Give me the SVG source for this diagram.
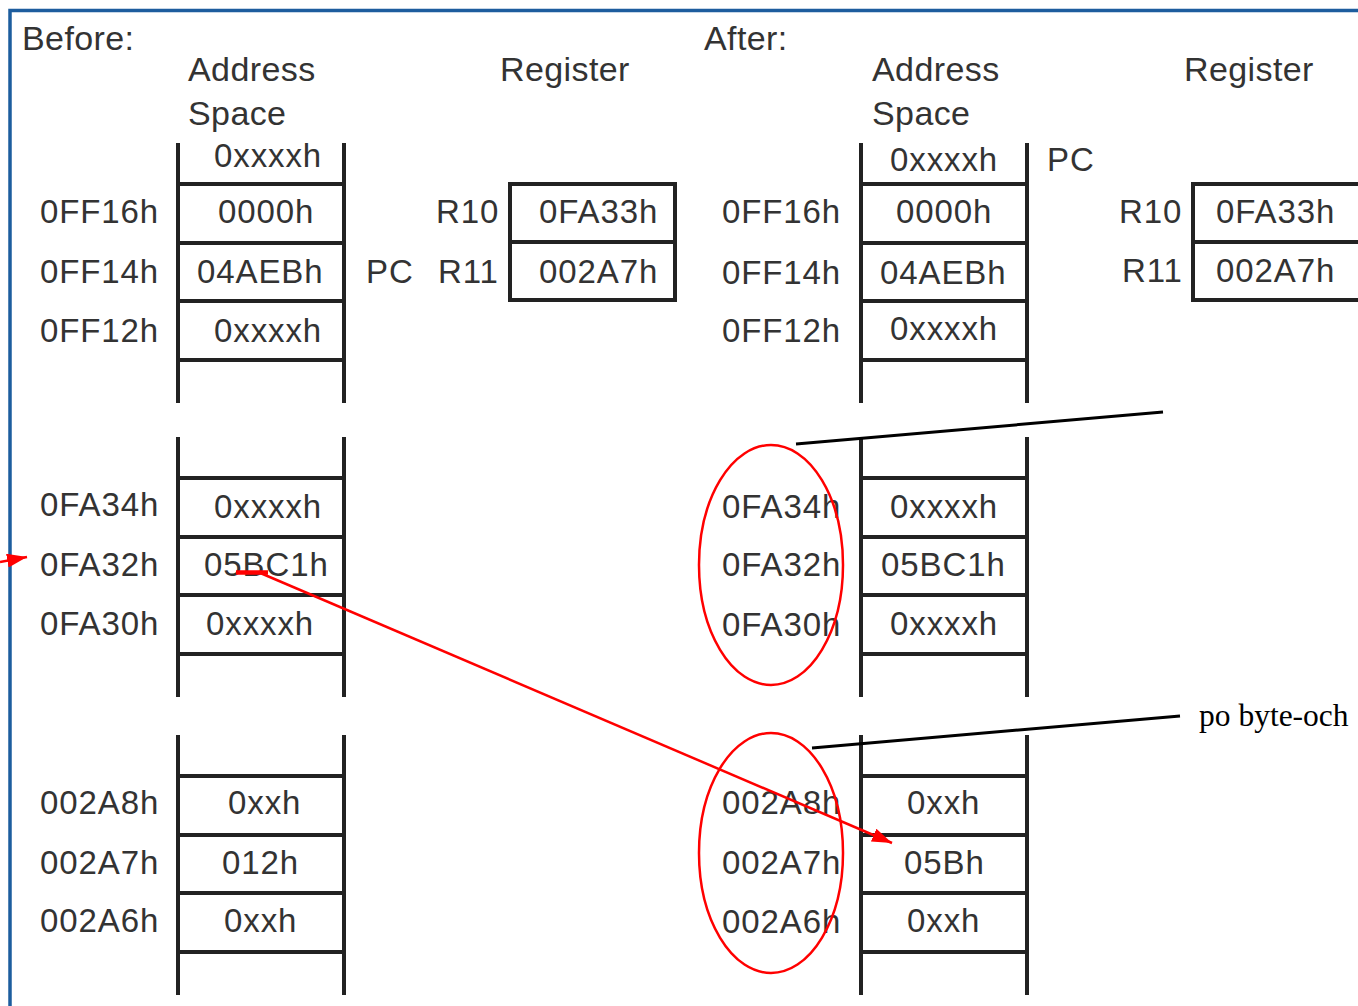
<svg xmlns="http://www.w3.org/2000/svg" width="1358" height="1006" viewBox="0 0 1358 1006">
  <defs>
    <style>
      .hdr { font-family: "Liberation Sans", Arial, sans-serif; font-size: 34px; fill: #333; letter-spacing: 0.4px; }
      .cell { font-family: "Liberation Sans", Arial, sans-serif; font-size: 33px; fill: #333; letter-spacing: 0.9px; }
      .note { font-family: "Liberation Serif", "Times New Roman", serif; font-size: 31.5px; fill: #000; }
      .wall { stroke: #222; stroke-width: 4; fill: none; }
      .reg { stroke: #222; stroke-width: 4; fill: none; }
      .ring { stroke: #f00; stroke-width: 2.5; fill: none; }
      .lead { stroke: #000; stroke-width: 3; fill: none; }
      .red { stroke: #f00; stroke-width: 2.5; fill: none; }
    </style>
    <marker id="redHead" viewBox="0 0 20 14" refX="20" refY="7" markerWidth="20" markerHeight="14" markerUnits="userSpaceOnUse" orient="auto">
      <path d="M0,0 L20,7 L0,14 Z" fill="#f00"/>
    </marker>
    <!-- one memory strip: two side walls and four cell dividers -->
    <g id="strip">
      <line class="wall" x1="0" y1="0" x2="0" y2="260"/>
      <line class="wall" x1="166" y1="0" x2="166" y2="260"/>
      <line class="wall" x1="0" y1="41" x2="166" y2="41"/>
      <line class="wall" x1="0" y1="100" x2="166" y2="100"/>
      <line class="wall" x1="0" y1="158" x2="166" y2="158"/>
      <line class="wall" x1="0" y1="217" x2="166" y2="217"/>
    </g>
  </defs>

  <rect x="0" y="0" width="1358" height="1006" fill="#fff"/>
  <!-- frame -->
  <rect x="10" y="10.5" width="1420" height="1100" fill="none" stroke="#1d5d9e" stroke-width="3.5"/>

  <!-- ===== Before ===== -->
  <g id="before-headers">
    <text class="hdr" x="22" y="50">Before:</text>
    <text class="hdr" x="188" y="81">Address</text>
    <text class="hdr" x="188" y="125">Space</text>
    <text class="hdr" x="500" y="81">Register</text>
  </g>

  <g id="before-mem-top">
    <use href="#strip" x="178" y="143"/>
    <text class="cell" x="214" y="167">0xxxxh</text>
    <text class="cell" x="40" y="223">0FF16h</text>
    <text class="cell" x="218" y="223">0000h</text>
    <text class="cell" x="40" y="283">0FF14h</text>
    <text class="cell" x="197" y="283">04AEBh</text>
    <text class="cell" x="40" y="342">0FF12h</text>
    <text class="cell" x="214" y="342">0xxxxh</text>
    <text class="cell" x="366" y="283">PC</text>
  </g>

  <g id="before-registers">
    <rect class="reg" x="510" y="184" width="165" height="116"/>
    <line class="reg" x1="510" y1="242" x2="675" y2="242"/>
    <text class="cell" x="436" y="223">R10</text>
    <text class="cell" x="539" y="223">0FA33h</text>
    <text class="cell" x="438" y="283">R11</text>
    <text class="cell" x="539" y="283">002A7h</text>
  </g>

  <g id="before-mem-mid">
    <use href="#strip" x="178" y="437"/>
    <text class="cell" x="40" y="516">0FA34h</text>
    <text class="cell" x="214" y="518">0xxxxh</text>
    <text class="cell" x="40" y="576">0FA32h</text>
    <text class="cell" x="204" y="576">05BC1h</text>
    <text class="cell" x="40" y="635">0FA30h</text>
    <text class="cell" x="206" y="635">0xxxxh</text>
  </g>

  <g id="before-mem-low">
    <use href="#strip" x="178" y="735"/>
    <text class="cell" x="40" y="814">002A8h</text>
    <text class="cell" x="228" y="814">0xxh</text>
    <text class="cell" x="40" y="874">002A7h</text>
    <text class="cell" x="222" y="874">012h</text>
    <text class="cell" x="40" y="932">002A6h</text>
    <text class="cell" x="224" y="932">0xxh</text>
  </g>

  <!-- ===== After ===== -->
  <g id="after-headers">
    <text class="hdr" x="704" y="50">After:</text>
    <text class="hdr" x="872" y="81">Address</text>
    <text class="hdr" x="872" y="125">Space</text>
    <text class="hdr" x="1184" y="81">Register</text>
  </g>

  <g id="after-mem-top">
    <use href="#strip" x="861" y="143"/>
    <text class="cell" x="890" y="171">0xxxxh</text>
    <text class="cell" x="1047" y="171">PC</text>
    <text class="cell" x="722" y="223">0FF16h</text>
    <text class="cell" x="896" y="223">0000h</text>
    <text class="cell" x="722" y="284">0FF14h</text>
    <text class="cell" x="880" y="284">04AEBh</text>
    <text class="cell" x="722" y="342">0FF12h</text>
    <text class="cell" x="890" y="340">0xxxxh</text>
  </g>

  <g id="after-registers">
    <rect class="reg" x="1193" y="184" width="200" height="116"/>
    <line class="reg" x1="1193" y1="242" x2="1393" y2="242"/>
    <text class="cell" x="1119" y="223">R10</text>
    <text class="cell" x="1216" y="223">0FA33h</text>
    <text class="cell" x="1122" y="282">R11</text>
    <text class="cell" x="1216" y="282">002A7h</text>
  </g>

  <g id="after-mem-mid">
    <use href="#strip" x="861" y="437"/>
    <text class="cell" x="722" y="518">0FA34h</text>
    <text class="cell" x="890" y="518">0xxxxh</text>
    <text class="cell" x="722" y="576">0FA32h</text>
    <text class="cell" x="881" y="576">05BC1h</text>
    <text class="cell" x="722" y="636">0FA30h</text>
    <text class="cell" x="890" y="635">0xxxxh</text>
  </g>

  <g id="after-mem-low">
    <use href="#strip" x="861" y="735"/>
    <text class="cell" x="722" y="814">002A8h</text>
    <text class="cell" x="907" y="814">0xxh</text>
    <text class="cell" x="722" y="874">002A7h</text>
    <text class="cell" x="904" y="874">05Bh</text>
    <text class="cell" x="722" y="933">002A6h</text>
    <text class="cell" x="907" y="932">0xxh</text>
  </g>

  <!-- highlight rings and callout -->
  <g id="rings">
    <ellipse class="ring" cx="771" cy="565" rx="72" ry="120"/>
    <ellipse class="ring" cx="771" cy="853" rx="72" ry="120"/>
  </g>

  <g id="callout">
    <text class="note" x="1199" y="726">po byte-och</text>
  </g>

  <!-- connectors -->
  <g id="connectors">
    <line class="lead" x1="796" y1="444" x2="1163" y2="412"/>
    <line class="lead" x1="812" y1="748" x2="1180" y2="716"/>
    <line class="red" x1="0" y1="562" x2="27" y2="557" marker-end="url(#redHead)"/>
    <line x1="236" y1="572.5" x2="268" y2="572.5" stroke="#f00" stroke-width="4.5"/>
    <line class="red" x1="258" y1="572" x2="892" y2="843" marker-end="url(#redHead)"/>
  </g>
</svg>
